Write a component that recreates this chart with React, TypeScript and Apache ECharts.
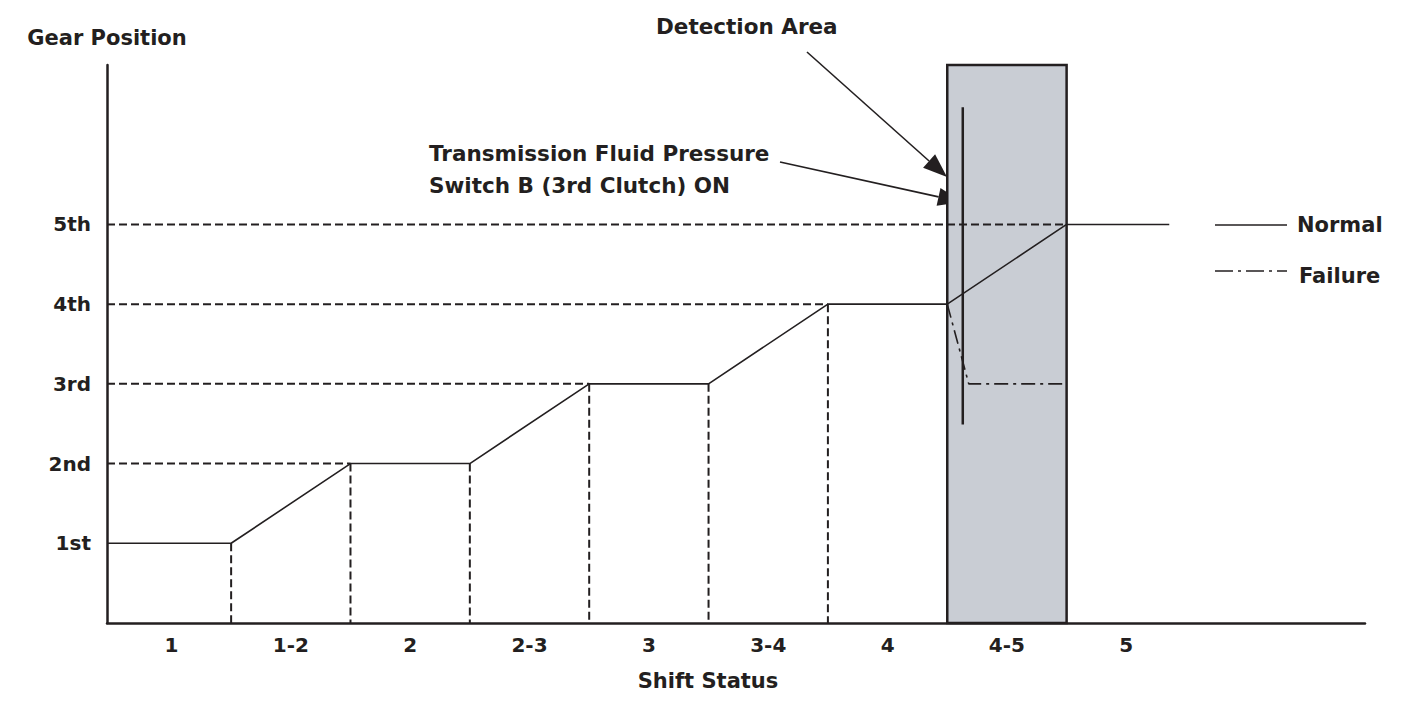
import React, { useEffect, useRef } from "react";
import * as echarts from "echarts";

// ---- data ----
const shiftCategories = ["1", "1-2", "2", "2-3", "3", "3-4", "4", "4-5", "5"];
const categoryCenters = [0.5, 1.5, 2.5, 3.5, 4.5, 5.5, 6.5, 7.5, 8.5];
const gearLabels = ["1st", "2nd", "3rd", "4th", "5th"];
const xMin = -0.04;
const xMax = 10.5;
const normalX = [-0.04, 1, 2, 3, 4, 5, 6, 7, 8, 8.86];
const normalY = [1, 1, 2, 2, 3, 3, 4, 4, 5, 5];
const failureX = [7, 7.18, 8];
const failureY = [4, 3, 3];
const refLevels = [2, 3, 4, 5];
const refEnds = [2, 4, 6, 8];
const boundaryX = [1, 2, 3, 4, 5, 6];
const boundaryTop = [1, 2, 2, 3, 3, 4];
const detectionArea = [7, 8];
const switchX = 7.13;
const switchY = [2.49, 6.47];

const INK = "#231f20";
const FONT = "DejaVu Sans";

function arrow(x1: number, y1: number, x2: number, y2: number, len = 24, half = 9) {
  const dx = x2 - x1;
  const dy = y2 - y1;
  const L = Math.hypot(dx, dy);
  const ux = dx / L;
  const uy = dy / L;
  const bx = x2 - ux * len;
  const by = y2 - uy * len;
  const px = -uy;
  const py = ux;
  return [
    {
      type: "line",
      shape: { x1, y1, x2: bx, y2: by },
      style: { stroke: INK, lineWidth: 1.6 },
    },
    {
      type: "polygon",
      shape: {
        points: [
          [x2, y2],
          [bx + px * half, by + py * half],
          [bx - px * half, by - py * half],
        ],
      },
      style: { fill: INK },
    },
  ];
}

export default function App() {
  const ref = useRef<HTMLDivElement>(null);

  useEffect(() => {
    document.body.style.margin = "0";
    const chart = echarts.init(ref.current!, null, { renderer: "svg" });

    const dashed = { color: INK, width: 2, type: [8, 4] as any };

    const series: any[] = [];

    series.push({
      type: "line",
      name: "Detection Area",
      data: [],
      silent: true,
      z: 1,
      markArea: {
        silent: true,
        itemStyle: { color: "#c9cdd4", borderColor: INK, borderWidth: 2.5 },
        data: [[{ xAxis: detectionArea[0], yAxis: 0 }, { xAxis: detectionArea[1], yAxis: 7 }]],
      },
    });

    refLevels.forEach((lv, i) => {
      series.push({
        type: "line",
        data: [
          [xMin, lv],
          [refEnds[i], lv],
        ],
        symbol: "none",
        lineStyle: dashed,
        z: 3,
      });
    });

    boundaryX.forEach((bx, i) => {
      series.push({
        type: "line",
        data: [
          [bx, boundaryTop[i]],
          [bx, 0],
        ],
        symbol: "none",
        lineStyle: dashed,
        z: 3,
      });
    });

    series.push({
      type: "line",
      name: "Normal",
      data: normalX.map((x, i) => [x, normalY[i]]),
      symbol: "none",
      lineStyle: { color: INK, width: 1.6 },
      z: 4,
    });

    series.push({
      type: "line",
      name: "Failure",
      data: failureX.map((x, i) => [x, failureY[i]]),
      symbol: "none",
      lineStyle: { color: INK, width: 1.6, type: [14, 5, 3, 5] },
      z: 4,
    });

    series.push({
      type: "line",
      name: "Switch B",
      data: [
        [switchX, switchY[1]],
        [switchX, switchY[0]],
      ],
      symbol: "none",
      lineStyle: { color: INK, width: 2.5 },
      z: 5,
    });

    const textStyle = (size: number) => ({
      fontFamily: FONT,
      fontWeight: "bold",
      fontSize: size,
      fill: INK,
    });

    chart.setOption({
      animation: false,
      backgroundColor: "#ffffff",
      grid: { left: 107, right: 39, top: 65, bottom: 91, outerBoundsMode: "none" },
      xAxis: {
        type: "value",
        min: xMin,
        max: xMax,
        splitLine: { show: false },
        axisTick: { show: false },
        axisLine: { onZero: false, lineStyle: { color: INK, width: 2.5 } },
        axisLabel: {
          customValues: categoryCenters,
          formatter: (v: number) => {
            const idx = categoryCenters.findIndex((c) => Math.abs(c - v) < 1e-6);
            return idx >= 0 ? shiftCategories[idx] : "";
          },
          color: INK,
          fontFamily: FONT,
          fontWeight: "bold",
          fontSize: 20,
          margin: 12,
        },
        name: "Shift Status",
        nameLocation: "middle",
        nameGap: 47,
        nameTextStyle: {
          color: INK,
          fontFamily: FONT,
          fontWeight: "bold",
          fontSize: 21,
          padding: [0, 56, 0, 0],
        },
      },
      yAxis: {
        type: "value",
        min: 0,
        max: 7,
        interval: 1,
        splitLine: { show: false },
        axisTick: { show: false },
        axisLine: { show: true, onZero: false, lineStyle: { color: INK, width: 2.5 } },
        axisLabel: {
          formatter: (v: number) => (v >= 1 && v <= gearLabels.length ? gearLabels[v - 1] : ""),
          color: INK,
          fontFamily: FONT,
          fontWeight: "bold",
          fontSize: 20,
          margin: 16,
        },
        name: "Gear Position",
        nameLocation: "end",
        nameGap: 27,
        nameTextStyle: {
          color: INK,
          fontFamily: FONT,
          fontWeight: "bold",
          fontSize: 21,
          align: "center",
          verticalAlign: "middle",
        },
      },
      series,
      graphic: [
        {
          type: "text",
          left: 656,
          top: 15,
          style: { text: "Detection Area", ...textStyle(21.5) },
        },
        {
          type: "text",
          left: 429,
          top: 137,
          style: {
            text: "Transmission Fluid Pressure\nSwitch B (3rd Clutch) ON",
            lineHeight: 32,
            ...textStyle(21.5),
          },
        },
        ...arrow(807, 52, 947, 177),
        ...arrow(780, 162, 962, 202),
        {
          type: "line",
          shape: { x1: 1215, y1: 225, x2: 1287, y2: 225 },
          style: { stroke: INK, lineWidth: 1.6 },
        },
        {
          type: "text",
          left: 1297,
          top: 214,
          style: { text: "Normal", ...textStyle(21) },
        },
        {
          type: "line",
          shape: { x1: 1215, y1: 271, x2: 1287, y2: 271 },
          style: { stroke: INK, lineWidth: 1.6, lineDash: [18, 5, 3, 5] },
        },
        {
          type: "text",
          left: 1299,
          top: 265,
          style: { text: "Failure", ...textStyle(21) },
        },
      ],
    });

    return () => chart.dispose();
  }, []);

  return (
    <div
      ref={ref}
      style={{ position: "fixed", left: 0, top: 0, width: 1404, height: 714, background: "#fff" }}
    />
  );
}
